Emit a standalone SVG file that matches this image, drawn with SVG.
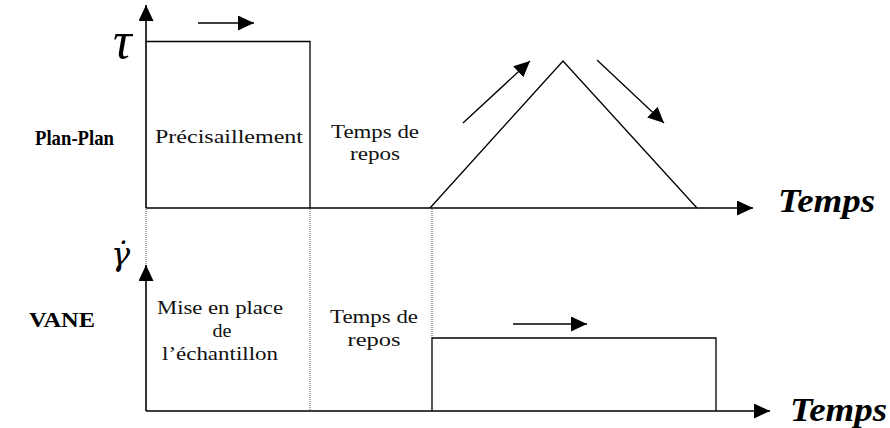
<svg xmlns="http://www.w3.org/2000/svg" width="890" height="428" viewBox="0 0 890 428">
<style>
  .ax { stroke:#000; stroke-width:1.6; fill:none; }
  .ln { stroke:#000; stroke-width:1.3; fill:none; }
  .dot { stroke:#555; stroke-width:1; stroke-dasharray:1 1; fill:none; }
  .lbl { font-family:"Liberation Serif","Times New Roman",serif; font-size:19px; fill:#111; }
  .bold { font-family:"Liberation Serif","Times New Roman",serif; font-size:21px; font-weight:bold; fill:#000; }
  .t { font-family:"Liberation Serif","Times New Roman",serif; font-size:34px; font-weight:bold; font-style:italic; fill:#000; }
  .greek { font-family:"Liberation Serif","Times New Roman",serif; font-style:italic; fill:#000; }
  .gdot { font-family:"DejaVu Serif","DejaVu Sans",serif; font-style:italic; fill:#000; }
</style>
<defs>
  <marker id="ah" markerUnits="userSpaceOnUse" markerWidth="17" markerHeight="16" refX="16" refY="7.5" orient="auto">
    <path d="M0,0 L16,7.5 L0,15 z" fill="#000"/>
  </marker>
</defs>
<rect width="890" height="428" fill="#fff"/>

<g id="connectors">
  <line class="dot" x1="146" y1="209" x2="146" y2="266"/>
  <line class="dot" x1="310" y1="209" x2="310" y2="411"/>
  <line class="dot" x1="432" y1="209" x2="432" y2="338"/>
  <line class="ax" x1="146" y1="208" x2="146" y2="5" marker-end="url(#ah)"/>
  <line class="ax" x1="146" y1="208" x2="753" y2="208" marker-end="url(#ah)"/>
  <line class="ax" x1="146" y1="411" x2="146" y2="265" marker-end="url(#ah)"/>
  <line class="ax" x1="146" y1="411" x2="770" y2="411" marker-end="url(#ah)"/>
  <line class="ln" x1="198" y1="23" x2="254" y2="23" marker-end="url(#ah)"/>
  <line class="ln" x1="463" y1="123" x2="530" y2="61" marker-end="url(#ah)"/>
  <line class="ln" x1="597" y1="60" x2="664" y2="123" marker-end="url(#ah)"/>
  <line class="ln" x1="513" y1="324" x2="587" y2="324" marker-end="url(#ah)"/>
</g>

<g id="top-signal">
  <polyline class="ln" points="146,41.5 310,41.5 310,208"/>
  <polyline class="ln" points="430,208 563,61 697,208"/>
</g>

<g id="bottom-signal">
  <polyline class="ln" points="432,411 432,338 716,338 716,411"/>
</g>

<g id="labels-top">
  <text class="greek" x="113" y="58" font-size="52">τ</text>
  <text class="bold" x="35" y="145" textLength="79" lengthAdjust="spacingAndGlyphs">Plan-Plan</text>
  <text class="lbl" x="229" y="143" text-anchor="middle" textLength="148" lengthAdjust="spacingAndGlyphs">Précisaillement</text>
  <text class="lbl" x="375" y="138" text-anchor="middle" textLength="88" lengthAdjust="spacingAndGlyphs">Temps de</text>
  <text class="lbl" x="375" y="160" text-anchor="middle" textLength="50" lengthAdjust="spacingAndGlyphs">repos</text>
  <text class="t" x="778" y="212" textLength="97" lengthAdjust="spacingAndGlyphs">Temps</text>
</g>

<g id="labels-bottom">
  <text class="gdot" x="111" y="265" font-size="32">γ̇</text>
  <text class="bold" x="29" y="327" textLength="66" lengthAdjust="spacingAndGlyphs">VANE</text>
  <text class="lbl" x="220" y="314" text-anchor="middle" textLength="126" lengthAdjust="spacingAndGlyphs">Mise en place</text>
  <text class="lbl" x="222" y="337" text-anchor="middle" textLength="19" lengthAdjust="spacingAndGlyphs">de</text>
  <text class="lbl" x="220" y="360" text-anchor="middle" textLength="116" lengthAdjust="spacingAndGlyphs">l’échantillon</text>
  <text class="lbl" x="374" y="323" text-anchor="middle" textLength="88" lengthAdjust="spacingAndGlyphs">Temps de</text>
  <text class="lbl" x="374" y="346" text-anchor="middle" textLength="53" lengthAdjust="spacingAndGlyphs">repos</text>
  <text class="t" x="790" y="421" textLength="97" lengthAdjust="spacingAndGlyphs">Temps</text>
</g>
</svg>
